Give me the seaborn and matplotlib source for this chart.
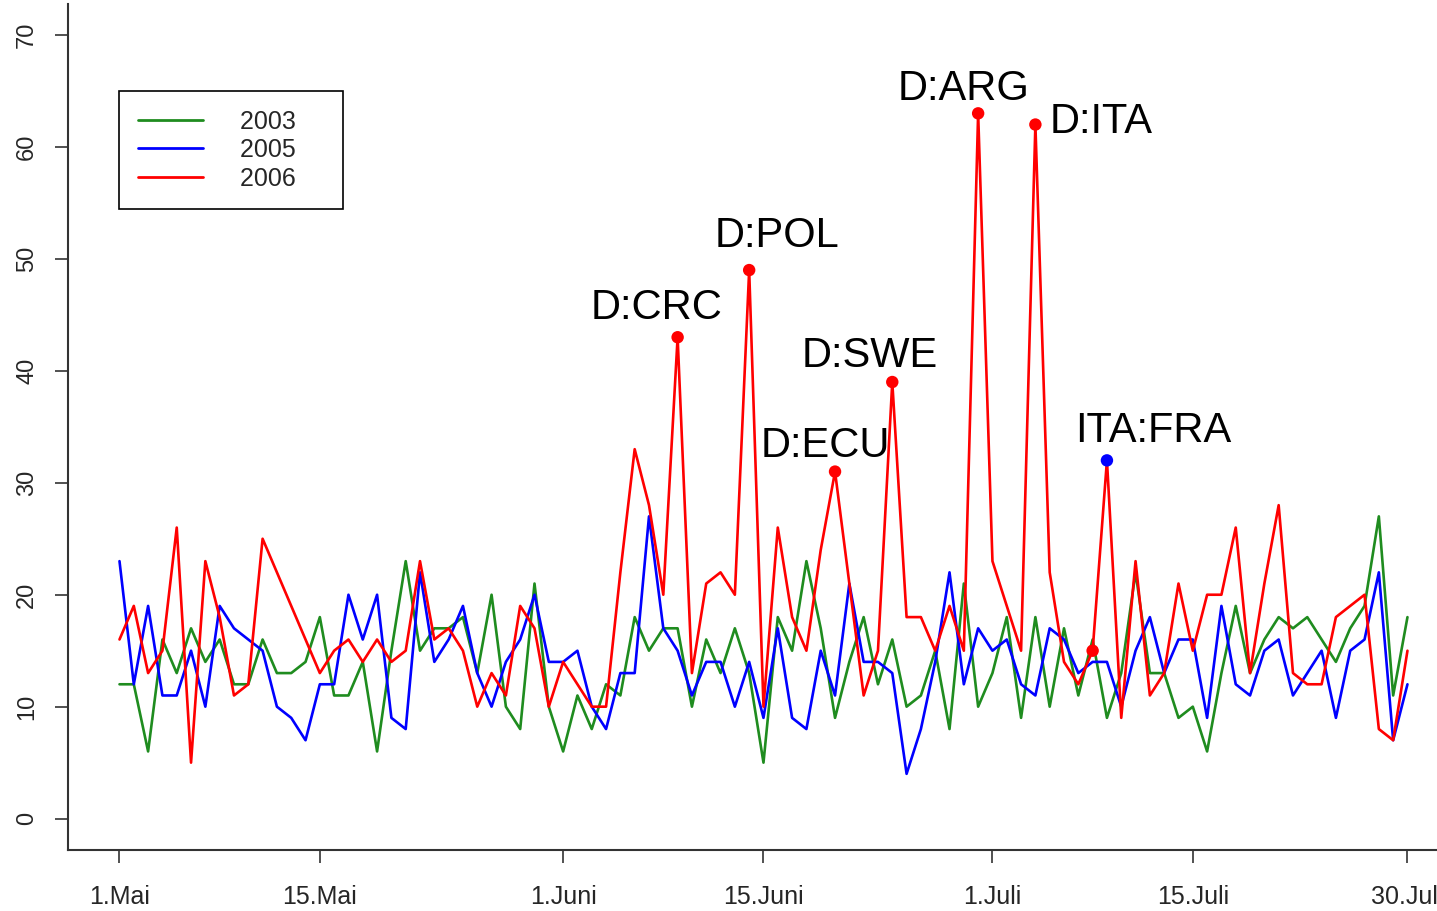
import numpy as np
import pandas as pd
import matplotlib
matplotlib.use("Agg")
from matplotlib import pyplot as plt
import seaborn as sns

# Tagesreihen 1.Mai - 30.Juli (91 Tage)
start = pd.Timestamp("2006-05-01")
days = np.arange(91)

y2003 = [12, 12, 6, 16, 13, 17, 14, 16, 12, 12, 16, 13, 13, 14, 18, 11, 11, 14, 6, 15,
         23, 15, 17, 17, 18, 13, 20, 10, 8, 21, 10, 6, 11, 8, 12, 11, 18, 15, 17, 17,
         10, 16, 13, 17, 13, 5, 18, 15, 23, 17, 9, 14, 18, 12, 16, 10, 11, 15, 8, 21,
         10, 13, 18, 9, 18, 10, 17, 11, 16, 9, 13, 22, 13, 13, 9, 10, 6, 13, 19, 13,
         16, 18, 17, 18, 16, 14, 17, 19, 27, 11, 18]
y2005 = [23, 12, 19, 11, 11, 15, 10, 19, 17, 16, 15, 10, 9, 7, 12, 12, 20, 16, 20, 9,
         8, 22, 14, 16, 19, 13, 10, 14, 16, 20, 14, 14, 15, 10, 8, 13, 13, 27, 17, 15,
         11, 14, 14, 10, 14, 9, 17, 9, 8, 15, 11, 21, 14, 14, 13, 4, 8, 14, 22, 12,
         17, 15, 16, 12, 11, 17, 16, 13, 14, 14, 10, 15, 18, 13, 16, 16, 9, 19, 12, 11,
         15, 16, 11, 13, 15, 9, 15, 16, 22, 7, 12]
y2006 = [16, 19, 13, 15, 26, 5, 23, 18, 11, 12, 25, np.nan, np.nan, np.nan, 13, 15, 16, 14, 16, 14,
         15, 23, 16, 17, 15, 10, 13, 11, 19, 17, 10, 14, 12, 10, 10, 22, 33, 28, 20, 43,
         13, 21, 22, 20, 49, 10, 26, 18, 15, 24, 31, 21, 11, 15, 39, 18, 18, 15, 19, 15,
         63, 23, 19, 15, 62, 22, 14, 12, 15, 32, 9, 23, 11, 13, 21, 15, 20, 20, 26, 13,
         21, 28, 13, 12, 12, 18, 19, 20, 8, 7, 15]

years = ["2003", "2005", "2006"]
colors = {"2003": "#1f8c1f", "2005": "#0000ff", "2006": "#ff0000"}

# Spiele mit Markierung (Tag-Index in 2006-Reihe)
hl_days = [39, 44, 50, 54, 60, 64, 68, 69]
hl_labels = ["D:CRC", "D:POL", "D:ECU", "D:SWE", "D:ARG", "D:ITA", "", "ITA:FRA"]
hl_colors = ["#ff0000"] * 7 + ["#0000ff"]
hl_offsets = [(-21, 29), (28, 34), (-10, 26), (-23, 26), (-15, 24), (66, 3), (0, 0), (46, 29)]

tick_dates = ["2006-05-01", "2006-05-15", "2006-06-01", "2006-06-15",
              "2006-07-01", "2006-07-15", "2006-07-30"]
tick_labels = ["1.Mai", "15.Mai", "1.Juni", "15.Juni", "1.Juli", "15.Juli", "30.Juli"]
tick_pos = [(pd.Timestamp(t) - start).days for t in tick_dates]

df = pd.DataFrame({
    "day": np.tile(days, 3),
    "value": np.concatenate([y2003, y2005, y2006]),
    "year": np.repeat(years, len(days)),
}).dropna()

sns.set_style("ticks")
plt.rcParams["font.family"] = ["Liberation Sans", "DejaVu Sans"]

fig = plt.figure(figsize=(14.37, 9.11), dpi=100)
ax = fig.add_axes([0.0473, 0.0670, 0.968, 0.929])

sns.lineplot(data=df, x="day", y="value", hue="year", palette=colors,
             estimator=None, linewidth=1.9, ax=ax)

y06 = np.array(y2006)
hl = pd.DataFrame({"day": hl_days, "value": y06[hl_days], "c": hl_colors})
sns.scatterplot(data=hl, x="day", y="value", hue="c",
                palette={c: c for c in set(hl_colors)}, s=80,
                edgecolor="none", legend=False, zorder=5, ax=ax)

for d, lab, off in zip(hl_days, hl_labels, hl_offsets):
    if lab:
        ax.annotate(lab, (d, y06[d]), xytext=off, textcoords="offset pixels",
                    ha="center", va="center", fontsize=30, color="black")

ax.set_xlim(-3.6, 93.6)
ax.set_ylim(-2.8, 72.8)
ax.set_xticks(tick_pos)
ax.set_xticklabels(tick_labels)
ax.set_yticks(range(0, 71, 10))
ax.set_xlabel("")
ax.set_ylabel("")

sns.despine(ax=ax)
for s in ["left", "bottom"]:
    ax.spines[s].set_linewidth(1.5)
    ax.spines[s].set_color("#333333")
ax.tick_params(axis="both", which="major", bottom=True, left=True, direction="out",
               length=9.4, width=1.2, color="#333333")
ax.tick_params(axis="x", labelsize=18, pad=16)
ax.tick_params(axis="y", labelsize=17, pad=12, labelrotation=90)
for t in ax.get_yticklabels():
    t.set_va("center")

handles, _ = ax.get_legend_handles_labels()
leg = ax.legend(handles[:3], [y + "    " for y in years],
                loc="upper left", bbox_to_anchor=(0.0367, 0.8968), borderaxespad=0,
                fontsize=18, frameon=True, fancybox=False, framealpha=1,
                edgecolor="black", handlelength=2.6, handletextpad=1.5,
                borderpad=0.75, labelspacing=0.18)
leg.get_frame().set_linewidth(1.2)
for line in leg.get_lines():
    line.set_linewidth(2)

fig.savefig("out.png", dpi=100)
